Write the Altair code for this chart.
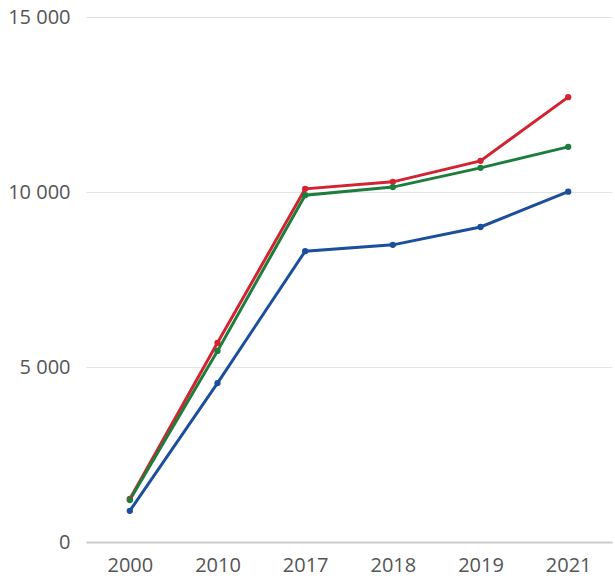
import altair as alt
import pandas as pd

years = ["2000", "2010", "2017", "2018", "2019", "2021"]
red_values = [1230, 5690, 10090, 10290, 10890, 12710]
green_values = [1200, 5460, 9910, 10140, 10690, 11290]
blue_values = [890, 4540, 8310, 8490, 9000, 10010]
series_names = ["Red", "Green", "Blue"]
series_colors = ["#d42330", "#1d7d3c", "#1c4f9b"]

rows = []
for name, vals in zip(series_names, [red_values, green_values, blue_values]):
    for y, v in zip(years, vals):
        rows.append({"year": y, "value": v, "series": name})
df = pd.DataFrame(rows)

x_enc = alt.X("year:O", sort=years,
              scale=alt.Scale(paddingOuter=0.5, paddingInner=0),
              axis=alt.Axis(title=None, labelAngle=0, ticks=False,
                            domainColor="#cccccc", domainWidth=2,
                            labelFontSize=20, labelColor="#555555",
                            labelFont="Open Sans", labelPadding=13,
                            grid=False))
y_enc = alt.Y("value:Q", scale=alt.Scale(domain=[0, 15000], nice=False),
              axis=alt.Axis(title=None, values=[0, 5000, 10000, 15000],
                            labelExpr="replace(format(datum.value, ','), ',', ' ')",
                            domain=False, ticks=False, gridColor="#e3e3e3",
                            gridWidth=1, labelFontSize=20, labelColor="#555555",
                            labelFont="Open Sans", labelPadding=16))
color_enc = alt.Color("series:N", scale=alt.Scale(domain=series_names, range=series_colors),
                      legend=None)

lines = alt.Chart(df).mark_line(strokeWidth=3).encode(x=x_enc, y=y_enc, color=color_enc)
points = alt.Chart(df).mark_circle(size=40, opacity=1).encode(x=x_enc, y=y_enc, color=color_enc)

chart = alt.layer(lines, points).properties(
    width=526, height=525,
    background="white",
    autosize=alt.AutoSizeParams(type="none"),
    padding={"left": 86, "top": 17, "right": 3, "bottom": 39},
).configure_view(stroke=None)

chart.save("out.html", embed_options={"renderer": "svg", "actions": False})
